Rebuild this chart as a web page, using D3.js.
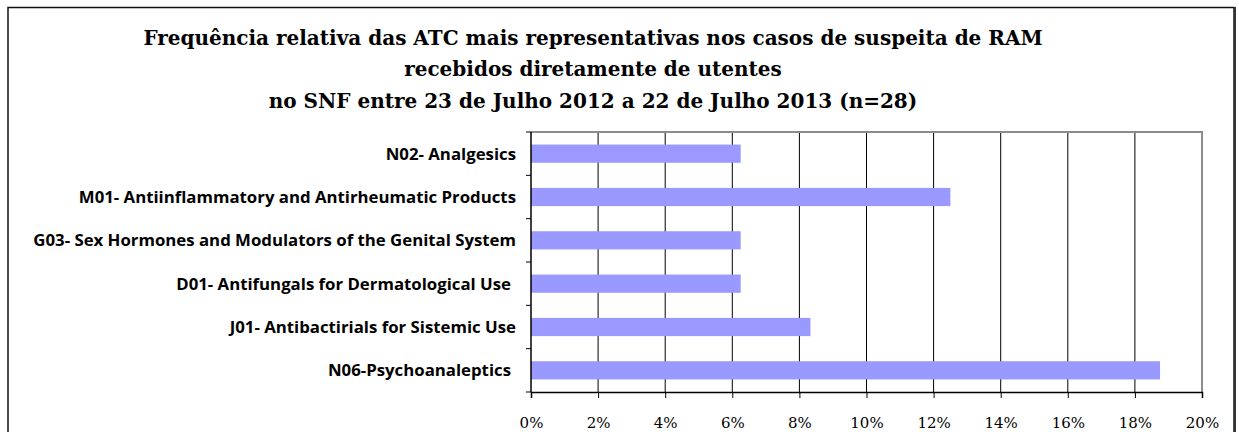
<!DOCTYPE html>
<html>
<head>
<meta charset="utf-8">
<script src="https://cdn.jsdelivr.net/npm/d3@7"></script>
<style>
  html, body { margin: 0; padding: 0; background: #fff; }
  svg { display: block; }
</style>
</head>
<body>
<div id="chart"></div>
<script>
// ---- data (top to bottom, as drawn) ----
const CATEGORIES = [
  'N02- Analgesics',
  'M01- Antiinflammatory and Antirheumatic Products',
  'G03- Sex Hormones and Modulators of the Genital System',
  'D01- Antifungals for Dermatological Use',
  'J01- Antibactirials for Sistemic Use',
  'N06-Psychoanaleptics'
];
const VALUES = [0.0625, 0.125, 0.0625, 0.0625, 0.0833, 0.1875];
const X_TICKS = [0, 0.02, 0.04, 0.06, 0.08, 0.10, 0.12, 0.14, 0.16, 0.18, 0.20];
const TITLE_LINES = [
  'Frequência relativa das ATC mais representativas nos casos de suspeita de RAM',
  'recebidos diretamente de utentes',
  'no SNF entre 23 de Julho 2012 a 22 de Julho 2013 (n=28)'
];

const W = 1239, H = 432;
const m = { t: 132, r: 37, b: 40, l: 531 };
const w = W - m.l - m.r;
const h = H - m.t - m.b;

const svg = d3.select('#chart').append('svg')
  .attr('width', W).attr('height', H);

// outer chart frame (bottom edge runs past the picture)
svg.append('rect')
  .attr('x', 8).attr('y', 7.5).attr('width', 1226).attr('height', 440)
  .attr('fill', 'none').attr('stroke', '#111').attr('stroke-width', 1.5);
svg.append('line')
  .attr('x1', 1235).attr('x2', 1235).attr('y1', 7).attr('y2', H)
  .attr('stroke', '#333').attr('stroke-width', 2);

// title
const title = svg.append('text')
  .attr('text-anchor', 'middle')
  .attr('font-family', '"DejaVu Serif", serif')
  .attr('font-weight', 'bold').attr('font-size', 20)
  .attr('fill', '#000');
[45, 76, 108].forEach((yy, i) => {
  title.append('tspan').attr('x', 593).attr('y', yy).text(TITLE_LINES[i]);
});

const g = svg.append('g').attr('transform', `translate(${m.l},${m.t})`);

const x = d3.scaleLinear().domain([0, 0.20]).range([0, w]);
const y = d3.scaleBand().domain(CATEGORIES).range([0, h]).paddingInner(0.58).paddingOuter(0.29);

// vertical gridlines
g.append('g')
  .selectAll('line').data(X_TICKS.slice(1, -1)).join('line')
  .attr('x1', d => x(d)).attr('x2', d => x(d))
  .attr('y1', 0).attr('y2', h)
  .attr('stroke', '#000').attr('stroke-width', 1);

// plot area border (top/right in grey)
g.append('path')
  .attr('d', `M0,0H${x(0.20)}V${h}`)
  .attr('fill', 'none').attr('stroke', '#8c8c8c').attr('stroke-width', 2);

// bars
g.append('g')
  .selectAll('rect').data(VALUES).join('rect')
  .attr('x', 0)
  .attr('y', (d, i) => y(CATEGORIES[i]))
  .attr('width', d => x(d))
  .attr('height', y.bandwidth())
  .attr('fill', '#9999ff');

// x axis
const xAxis = g.append('g').attr('transform', `translate(0,${h})`)
  .call(d3.axisBottom(x).tickValues(X_TICKS).tickSize(6).tickPadding(19)
    .tickFormat(d => Math.round(d * 100) + '%'));
xAxis.select('.domain').attr('stroke', '#000').attr('stroke-width', 1.5);
xAxis.selectAll('.tick line').attr('stroke', '#000');
xAxis.selectAll('text')
  .attr('font-family', '"DejaVu Serif", serif').attr('font-size', 15)
  .attr('fill', '#000');

// y axis: ticks sit between categories
const yBounds = d3.range(CATEGORIES.length + 1).map(i => i * h / CATEGORIES.length);
const yAxis = g.append('g');
yAxis.append('line').attr('x1', 0).attr('x2', 0).attr('y1', 0).attr('y2', h)
  .attr('stroke', '#000').attr('stroke-width', 1.5);
yAxis.selectAll('.ytick').data(yBounds).join('line').attr('class', 'ytick')
  .attr('x1', -5).attr('x2', 0).attr('y1', d => d).attr('y2', d => d)
  .attr('stroke', '#000');

// category labels
const offsets = [0, 0, 0, 5, 0, 5]; // trailing spaces in original labels
yAxis.selectAll('.ylab').data(CATEGORIES).join('text').attr('class', 'ylab')
  .attr('x', (d, i) => -15 - offsets[i])
  .attr('y', d => y(d) + y.bandwidth() / 2)
  .attr('dy', '0.35em')
  .attr('text-anchor', 'end')
  .attr('font-family', '"Open Sans", sans-serif')
  .attr('font-weight', 'bold').attr('font-size', 16.8)
  .attr('fill', '#000')
  .text(d => d);
</script>
</body>
</html>
